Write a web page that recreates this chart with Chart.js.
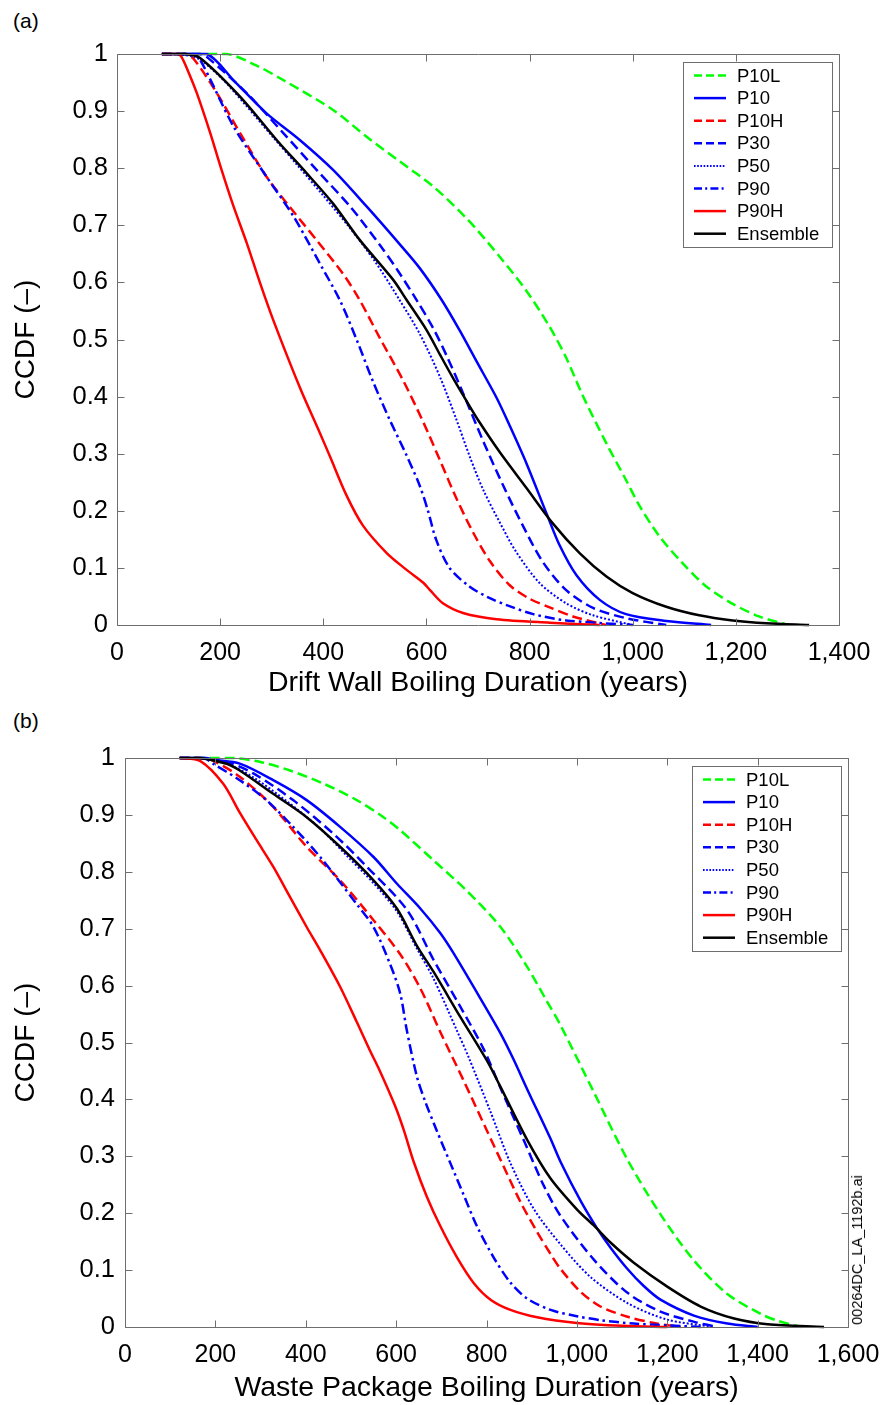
<!DOCTYPE html>
<html>
<head>
<meta charset="utf-8">
<script src="https://cdn.jsdelivr.net/npm/chart.js@4.4.1/dist/chart.umd.min.js"></script>
<style>
  body { margin: 0; background: #fff; width: 883px; height: 1405px; position: relative; overflow: hidden;
         font-family: "Liberation Sans", Arial, sans-serif; color: #000; }
  canvas { position: absolute; left: 0; }
  #chartA { top: 0; }
  #chartB { top: 700px; }
  .tag { position: absolute; left: 13px; font-size: 21px; line-height: 26px; }
  #stamp { position: absolute; left: 857px; top: 1250px; font-size: 14.5px; white-space: nowrap;
           transform: translate(-50%, -50%) rotate(-90deg); }
</style>
</head>
<body>
<div class="tag" style="top:8px">(a)</div>
<div class="tag" style="top:708px">(b)</div>
<canvas id="chartA" width="883" height="700"></canvas>
<canvas id="chartB" width="883" height="705"></canvas>
<div id="stamp">00264DC_LA_1192b.ai</div>
<script>
// Series and tick labels
const seriesNames = ['P10L', 'P10', 'P10H', 'P30', 'P50', 'P90', 'P90H', 'Ensemble'];
const ccdfTicks = [0, 0.1, 0.2, 0.3, 0.4, 0.5, 0.6, 0.7, 0.8, 0.9, 1];
const wallTicks = [0, 200, 400, 600, 800, 1000, 1200, 1400];
const pkgTicks = [0, 200, 400, 600, 800, 1000, 1200, 1400, 1600];

// (a) Drift wall boiling duration (years) vs CCDF
const wallP10L = [[87,1],[213,1],[270,0.98],[323,0.954],[419,0.902],[484,0.855],[548,0.812],[613,0.768],[678,0.712],[742,0.645],[794,0.585],[839,0.522],[871,0.468],[903,0.402],[949,0.318],[987,0.254],[1013,0.209],[1052,0.155],[1097,0.108],[1142,0.068],[1194,0.037],[1245,0.015],[1303,0]];
const wallP10 = [[87,1],[174,1],[226,0.954],[290,0.896],[355,0.849],[419,0.797],[484,0.733],[548,0.667],[587,0.625],[629,0.57],[665,0.515],[697,0.462],[736,0.398],[761,0.35],[794,0.283],[833,0.195],[858,0.14],[891,0.087],[936,0.044],[987,0.019],[1065,0.007],[1152,0]];
const wallP10H = [[87,1],[130,1],[148,0.992],[194,0.931],[239,0.861],[290,0.785],[336,0.731],[387,0.674],[439,0.614],[470,0.57],[510,0.502],[555,0.428],[594,0.355],[626,0.289],[658,0.222],[690,0.163],[723,0.112],[761,0.07],[800,0.046],[839,0.031],[884,0.015],[948,0]];
const wallP30 = [[87,1],[160,1],[174,0.995],[252,0.931],[323,0.861],[387,0.797],[452,0.733],[510,0.665],[545,0.62],[581,0.569],[613,0.52],[640,0.47],[671,0.406],[712,0.318],[750,0.242],[787,0.174],[826,0.11],[871,0.061],[923,0.03],[987,0.012],[1065,0]];
const wallP50 = [[87,1],[150,0.995],[200,0.96],[250,0.91],[300,0.857],[350,0.805],[400,0.752],[450,0.697],[500,0.637],[548,0.569],[587,0.51],[626,0.435],[658,0.36],[684,0.295],[710,0.237],[742,0.18],[774,0.128],[820,0.073],[871,0.038],[923,0.017],[1000,0]];
const wallP90 = [[87,1],[145,1],[161,0.99],[226,0.873],[290,0.785],[342,0.716],[394,0.632],[432,0.569],[465,0.499],[497,0.425],[529,0.359],[561,0.298],[587,0.244],[603,0.2],[619,0.149],[645,0.1],[684,0.067],[723,0.047],[761,0.033],[807,0.019],[871,0.008],[1000,0]];
const wallP90H = [[87,1],[119,1],[125,0.995],[135,0.976],[155,0.931],[181,0.861],[200,0.805],[226,0.733],[252,0.668],[277,0.6],[303,0.534],[355,0.415],[394,0.335],[413,0.295],[445,0.227],[477,0.174],[523,0.126],[561,0.097],[594,0.074],[607,0.061],[632,0.038],[671,0.021],[736,0.01],[839,0.004],[936,0]];
const wallEns = [[87,1],[130,1],[161,0.993],[239,0.925],[310,0.849],[368,0.791],[419,0.738],[471,0.674],[536,0.604],[561,0.57],[600,0.517],[626,0.474],[650,0.435],[678,0.392],[703,0.355],[742,0.303],[794,0.24],[845,0.178],[897,0.126],[949,0.085],[1000,0.056],[1065,0.032],[1129,0.017],[1194,0.008],[1259,0.003],[1342,0]];

// (b) Waste package boiling duration (years) vs CCDF
const pkgP10L = [[121,1],[239,1],[300,0.993],[365,0.978],[439,0.955],[513,0.926],[572,0.896],[609,0.873],[683,0.82],[757,0.766],[831,0.703],[890,0.633],[934,0.572],[964,0.53],[1038,0.412],[1112,0.294],[1185,0.198],[1259,0.117],[1333,0.058],[1407,0.023],[1444,0.011],[1496,0]];
const pkgP10 = [[121,1],[180,1],[195,0.997],[254,0.99],[328,0.961],[402,0.926],[476,0.879],[550,0.826],[602,0.779],[653,0.736],[698,0.692],[727,0.657],[786,0.578],[831,0.516],[860,0.47],[890,0.418],[941,0.332],[964,0.29],[1008,0.222],[1045,0.173],[1075,0.139],[1112,0.102],[1148,0.072],[1185,0.048],[1259,0.02],[1333,0.006],[1400,0]];
const pkgP10H = [[121,1],[165,1],[195,0.995],[254,0.967],[328,0.914],[402,0.844],[476,0.785],[550,0.715],[609,0.655],[653,0.596],[698,0.518],[750,0.432],[801,0.345],[838,0.282],[875,0.22],[912,0.167],[942,0.128],[963,0.103],[1008,0.062],[1052,0.036],[1112,0.018],[1171,0.007],[1230,0]];
const pkgP30 = [[121,1],[166,1],[225,0.993],[284,0.973],[372,0.926],[461,0.867],[535,0.809],[624,0.733],[683,0.645],[742,0.563],[794,0.488],[831,0.42],[882,0.329],[927,0.248],[964,0.195],[1038,0.118],[1112,0.06],[1185,0.027],[1260,0.009],[1311,0]];
const pkgP50 = [[121,1],[166,1],[225,0.99],[284,0.966],[358,0.924],[432,0.876],[491,0.828],[550,0.78],[602,0.73],[646,0.665],[683,0.612],[735,0.52],[760,0.475],[808,0.38],[853,0.288],[905,0.207],[964,0.145],[1030,0.088],[1112,0.042],[1200,0.013],[1303,0]];
const pkgP90 = [[121,1],[175,1],[195,0.99],[254,0.961],[313,0.926],[372,0.879],[432,0.826],[513,0.743],[550,0.703],[587,0.637],[609,0.586],[624,0.52],[646,0.44],[665,0.395],[690,0.345],[720,0.288],[749,0.233],[779,0.177],[816,0.122],[853,0.078],[890,0.05],[942,0.03],[1000,0.019],[1053,0.012],[1126,0.006],[1274,0]];
const pkgP90H = [[121,1],[166,0.995],[217,0.955],[254,0.904],[291,0.856],[328,0.809],[365,0.756],[402,0.703],[432,0.662],[476,0.598],[513,0.536],[542,0.486],[564,0.45],[598,0.388],[617,0.346],[639,0.29],[668,0.229],[698,0.177],[735,0.122],[772,0.077],[809,0.048],[853,0.03],[912,0.017],[1000,0.007],[1100,0.002],[1200,0]];
const pkgEns = [[121,1],[166,1],[225,0.99],[254,0.978],[328,0.937],[402,0.896],[476,0.844],[550,0.785],[602,0.735],[646,0.67],[683,0.624],[742,0.545],[801,0.468],[831,0.422],[890,0.329],[941,0.262],[1001,0.206],[1038,0.178],[1075,0.148],[1126,0.113],[1200,0.071],[1274,0.036],[1348,0.015],[1422,0.005],[1547,0]];

// Line styles
const lineStyles = {
  P10L:     { color: '#00ff00', dash: [10, 5], width: 2.5 },
  P10:      { color: '#0000ff', dash: [], width: 2.5 },
  P10H:     { color: '#ff0000', dash: [10, 5], width: 2.5 },
  P30:      { color: '#0000ff', dash: [10, 5], width: 2.5 },
  P50:      { color: '#0000ff', dash: [2, 2], width: 2 },
  P90:      { color: '#0000ff', dash: [10, 4, 2.5, 4], width: 2.5 },
  P90H:     { color: '#ff0000', dash: [], width: 2.5 },
  Ensemble: { color: '#000000', dash: [], width: 2.5 }
};

const FONT = '"Liberation Sans", Arial, sans-serif';
Chart.defaults.font.family = FONT;
Chart.defaults.color = '#000';

function makeDatasets(seriesList) {
  return seriesNames.map((name, i) => ({
    label: name,
    data: seriesList[i].map(p => ({ x: p[0], y: p[1] })),
    borderColor: lineStyles[name].color,
    borderDash: lineStyles[name].dash,
    borderWidth: lineStyles[name].width,
    pointRadius: 0,
    fill: false,
    tension: 0.3,
    clip: 4,
    order: seriesNames.length - i
  }));
}

// Box with inward tick marks on all four sides (matlab style)
const framePlugin = {
  id: 'frame',
  afterDatasetsDraw(chart) {
    const { ctx, chartArea: a, scales: { x, y } } = chart;
    ctx.save();
    ctx.strokeStyle = '#6e6e6e';
    ctx.lineWidth = 1;
    ctx.beginPath();
    const l = Math.round(a.left) + 0.5, r = Math.round(a.right) + 0.5;
    const t = Math.round(a.top) + 0.5, b = Math.round(a.bottom) + 0.5;
    ctx.rect(l, t, r - l, b - t);
    x.ticks.forEach(tk => {
      const px = Math.round(x.getPixelForValue(tk.value)) + 0.5;
      ctx.moveTo(px, b); ctx.lineTo(px, b - 7);
      ctx.moveTo(px, t); ctx.lineTo(px, t + 7);
    });
    y.ticks.forEach(tk => {
      const py = Math.round(y.getPixelForValue(tk.value)) + 0.5;
      ctx.moveTo(l, py); ctx.lineTo(l + 7, py);
      ctx.moveTo(r, py); ctx.lineTo(r - 7, py);
    });
    ctx.stroke();
    ctx.restore();
  }
};

// Legend box inside the plot, top right
const legendPlugin = {
  id: 'boxLegend',
  afterDraw(chart) {
    const { ctx, chartArea: a } = chart;
    const w = 149, h = 185;
    const left = Math.round(a.right - 7 - w), top = Math.round(a.top + 8);
    ctx.save();
    ctx.fillStyle = '#fff';
    ctx.fillRect(left, top, w, h);
    ctx.strokeStyle = '#6e6e6e';
    ctx.lineWidth = 1;
    ctx.strokeRect(left + 0.5, top + 0.5, w, h);
    ctx.font = '18.5px ' + FONT;
    ctx.textBaseline = 'middle';
    chart.data.datasets.forEach((ds, i) => {
      const yy = top + 13.5 + i * 22.6;
      ctx.strokeStyle = ds.borderColor;
      ctx.lineWidth = ds.borderWidth;
      ctx.setLineDash(ds.borderDash.map(d => d * 0.8));
      ctx.beginPath();
      ctx.moveTo(left + 11, yy);
      ctx.lineTo(left + 43, yy);
      ctx.stroke();
      ctx.setLineDash([]);
      ctx.fillStyle = '#000';
      ctx.fillText(ds.label, left + 54, yy + 1);
    });
    ctx.restore();
  }
};

function makeChart(id, seriesList, xTicks, xTitle, geom) {
  return new Chart(document.getElementById(id), {
    type: 'line',
    data: { datasets: makeDatasets(seriesList) },
    options: {
      responsive: false,
      animation: false,
      devicePixelRatio: 1,
      events: [],
      layout: { padding: { top: geom.top, right: geom.right, left: 0, bottom: 0 } },
      plugins: { legend: { display: false }, tooltip: { enabled: false } },
      scales: {
        x: {
          type: 'linear',
          min: xTicks[0],
          max: xTicks[xTicks.length - 1],
          afterBuildTicks: s => { s.ticks = xTicks.map(v => ({ value: v })); },
          afterFit: s => { s.height = geom.xAxisH; s.paddingLeft = 0; s.paddingRight = 0; },
          grid: { display: false, drawTicks: false },
          border: { display: false },
          ticks: {
            padding: 13,
            autoSkip: false,
            maxRotation: 0,
            font: { size: 25 },
            callback: v => v.toLocaleString('en-US')
          },
          title: { display: true, text: xTitle, font: { size: 28.5 }, padding: { top: 0, bottom: 0 } }
        },
        y: {
          min: 0,
          max: 1,
          afterBuildTicks: s => { s.ticks = ccdfTicks.map(v => ({ value: v })); },
          afterFit: s => { s.width = geom.yAxisW; },
          grid: { display: false, drawTicks: false },
          border: { display: false },
          ticks: {
            padding: geom.yPad,
            font: { size: 25.5 },
            callback: v => String(Math.round(v * 10) / 10)
          },
          title: { display: true, text: 'CCDF (–)', font: { size: 28 }, padding: { top: 9, bottom: 0 } }
        }
      }
    },
    plugins: [framePlugin, legendPlugin]
  });
}

makeChart('chartA',
  [wallP10L, wallP10, wallP10H, wallP30, wallP50, wallP90, wallP90H, wallEns],
  wallTicks, 'Drift Wall Boiling Duration (years)',
  { top: 54, right: 44, xAxisH: 75, yAxisW: 117, yPad: 9 });

makeChart('chartB',
  [pkgP10L, pkgP10, pkgP10H, pkgP30, pkgP50, pkgP90, pkgP90H, pkgEns],
  pkgTicks, 'Waste Package Boiling Duration (years)',
  { top: 58, right: 35, xAxisH: 78, yAxisW: 125, yPad: 10 });
</script>
</body>
</html>
